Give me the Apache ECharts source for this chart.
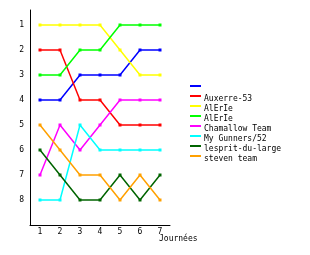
<!DOCTYPE html>
<html><head><meta charset="utf-8">
<script src="https://cdn.jsdelivr.net/npm/echarts@6/dist/echarts.min.js"></script>
<style>html,body{margin:0;padding:0;background:#fff}#c{width:310px;height:255px}</style>
</head><body><div id="c"></div>
<script>
const journees = ['1','2','3','4','5','6','7'];
const rankLabels = [1,2,3,4,5,6,7,8];
const teams = ['', 'Auxerre-53', 'AlErIe', 'AlErIe', 'Chamallow Team', 'My Gunners/52', 'lesprit-du-large', 'steven team'];
const colors = ['#0000ff','#ff0000','#ffff00','#00ff00','#ff00ff','#00ffff','#006400','#ffa000'];
const blue      = [4,4,3,3,3,2,2];
const auxerre   = [2,2,4,4,5,5,5];
const alerie1   = [1,1,1,1,2,3,3];
const alerie2   = [3,3,2,2,1,1,1];
const chamallow = [7,5,6,5,4,4,4];
const gunners   = [8,8,5,6,6,6,6];
const lesprit   = [6,7,8,8,7,8,7];
const steven    = [5,6,7,7,8,7,8];
const values = [blue, auxerre, alerie1, alerie2, chamallow, gunners, lesprit, steven];

const font = 'DejaVu Sans Mono';
const chart = echarts.init(document.getElementById('c'), null, {renderer:'canvas'});
const keys = teams.map((t,i)=>'s'+i);
chart.setOption({
  animation:false,
  color: colors,
  textStyle:{fontFamily:font},
  grid:{left:30, right:140, top:10, bottom:30, containLabel:false},
  xAxis:{
    type:'category', data:journees, boundaryGap:true,
    axisLine:{lineStyle:{color:'#000', width:1}},
    axisTick:{show:false},
    axisLabel:{color:'#000', fontFamily:font, fontSize:8, margin:3},
    splitLine:{show:false}
  },
  yAxis:{
    type:'value', inverse:true, min:0.4, max:9,
    axisLine:{show:true, lineStyle:{color:'#000', width:1}},
    axisTick:{show:false},
    splitLine:{show:false},
    axisLabel:{color:'#000', fontFamily:font, fontSize:8, margin:6, customValues:rankLabels}
  },
  legend:[{
    orient:'vertical', left:190, top:85, padding:0,
    itemWidth:11, itemHeight:2, itemGap:8,
    icon:'rect', selectedMode:false,
    data: keys,
    formatter: function(){ return ''; },
    textStyle:{fontSize:2, lineHeight:2}
  },{
    orient:'vertical', left:199, top:84, padding:0,
    itemWidth:0, itemHeight:10, itemGap:0,
    icon:'rect', selectedMode:false,
    itemStyle:{opacity:0},
    data: keys,
    formatter: function(name){ return teams[keys.indexOf(name)]; },
    textStyle:{color:'#000', fontFamily:font, fontSize:8, lineHeight:10}
  }],
  graphic:[{type:'text', left:159, top:235, style:{text:'Journées', font:'8px "DejaVu Sans Mono"', fill:'#000'}}],
  series: values.map((v,i)=>({
    name: keys[i], type:'line', data:v,
    symbol:'rect', symbolSize:3, showSymbol:true,
    lineStyle:{width:1.5, color:colors[i]},
    itemStyle:{color:colors[i]},
    emphasis:{disabled:true}
  }))
});
</script></body></html>
